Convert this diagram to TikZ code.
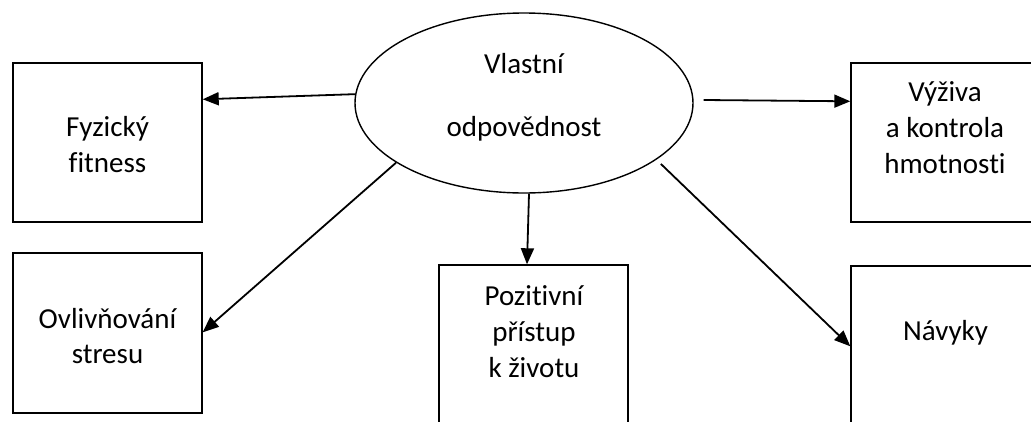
\documentclass[tikz,border=0pt]{standalone}
\usepackage{fontspec}
\setmainfont{Carlito}[Ligatures=NoCommon]
\usetikzlibrary{arrows.meta,shapes.geometric}
\begin{document}
\begin{tikzpicture}[x=1pt,y=-1pt,
  box/.style={draw,line width=1.4pt,rectangle,inner sep=0pt},
  lbl/.style={anchor=base,inner sep=0pt,font=\fontsize{29}{35}\selectfont},
  conn/.style={line width=1.8pt,-{Triangle[length=16pt,width=13pt]}}]
\useasboundingbox (0,0) rectangle (1031,421);
\clip (0,0) rectangle (1031,421);
\fill[white] (0,0) rectangle (1031,421);
% central ellipse
\node[ellipse,draw,line width=1.4pt,minimum width=338pt,minimum height=180pt,inner sep=0pt] (ell) at (524,103) {};
\node[lbl] (ellA) at (524,73.3) {Vlastní};
\node[lbl] (ellB) at (524,136.7) {odpovědnost};
% boxes
\node[box,minimum width=189pt,minimum height=159pt] (A) at (107.5,142.5) {};
\node[box,minimum width=189pt,minimum height=160pt] (B) at (107.5,333) {};
\node[box,minimum width=189pt,minimum height=175pt] (C) at (533.5,352.5) {};
\node[box,minimum width=199pt,minimum height=159pt] (D) at (950.5,142.5) {};
\node[box,minimum width=199pt,minimum height=175pt] (E) at (950.5,353.5) {};
% texts
\node[lbl] (A1) at (107.5,136.7) {Fyzický};
\node[lbl] (A2) at (107.5,172.7) {fitness};
\node[lbl] (B1) at (107.5,328.3) {Ovlivňování};
\node[lbl] (B2) at (107.5,363.3) {stresu};
\node[lbl] (C1) at (534,305) {Pozitivní};
\node[lbl] (C2) at (534,341) {přístup};
\node[lbl] (C3) at (534,377.5) {k životu};
\node[lbl] (D1) at (945,101.7) {Výživa};
\node[lbl] (D2) at (945,137) {a kontrola};
\node[lbl] (D3) at (945,173) {hmotnosti};
\node[lbl] (E1) at (945.5,340) {Návyky};
% connectors
\draw[conn] (ell.177.5) -- ([yshift=-37pt]A.north east);
\draw[conn] (ell.205.8) -- ([yshift=-80pt]B.north east);
\draw[conn] ([xshift=5pt]ell.south) -- ([xshift=-6.5pt]C.north);
\draw[conn] ([xshift=10pt,yshift=3pt]ell.east) -- ([yshift=-39pt]D.north west);
\draw[conn] ([xshift=-1pt,yshift=-8pt]ell.-21) -- ([yshift=-81pt]E.north west);
\end{tikzpicture}
\end{document}
